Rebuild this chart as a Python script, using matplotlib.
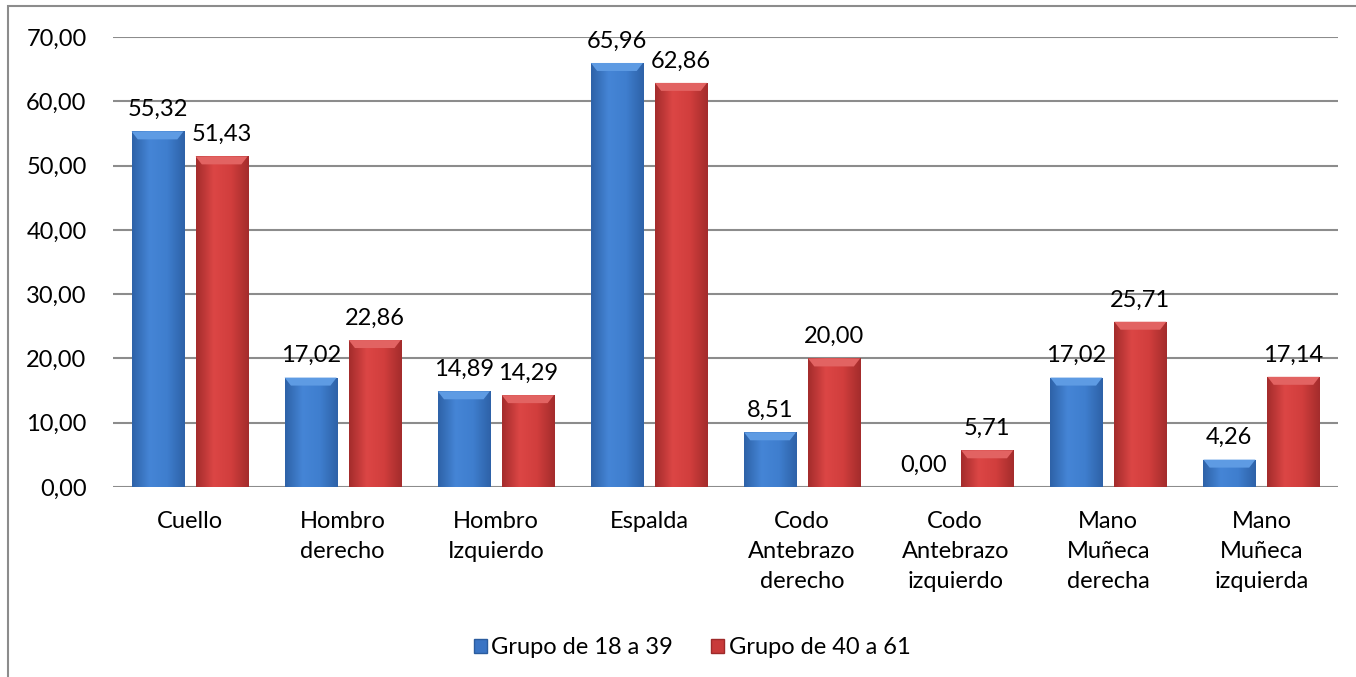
import matplotlib
matplotlib.use("Agg")
import matplotlib.pyplot as plt
import numpy as np
from matplotlib.patches import Rectangle, Polygon, Patch
from matplotlib.colors import LinearSegmentedColormap

categories = ["Cuello", "Hombro\nderecho", "Hombro\nIzquierdo", "Espalda",
              "Codo\nAntebrazo\nderecho", "Codo\nAntebrazo\nizquierdo",
              "Mano\nMuñeca\nderecha", "Mano\nMuñeca\nizquierda"]
series_names = ["Grupo de 18 a 39", "Grupo de 40 a 61"]
grupo_18_39 = [55.32, 17.02, 14.89, 65.96, 8.51, 0.00, 17.02, 4.26]
grupo_40_61 = [51.43, 22.86, 14.29, 62.86, 20.00, 5.71, 25.71, 17.14]
yticks = [0, 10, 20, 30, 40, 50, 60, 70]

plt.rcParams['font.family'] = ['Lato', 'DejaVu Sans']
FS = 17

W, H = 1356, 677
fig = plt.figure(figsize=(W / 100, H / 100), dpi=100)
ax = fig.add_axes([113 / W, (H - 487) / H, (1338 - 113) / W, (487 - 37) / H])

# outer chart frame
fig.patches.append(Rectangle((8 / W, -0.01), 1.02, (H - 6) / H + 0.01, transform=fig.transFigure,
                             fill=False, edgecolor="#8C8C8C", linewidth=1.5))

x = np.arange(len(categories))
bw = 52 / 153
off = 32 / 153

cm_blue = LinearSegmentedColormap.from_list("b", ["#2E62A8", "#4585D6", "#3F7ECE", "#2E62A8"])
cm_red = LinearSegmentedColormap.from_list("r", ["#A42C2C", "#DC4645", "#D13E3D", "#A42C2C"])
grad = np.linspace(0, 1, 64).reshape(1, -1)
top_blue = "#5E9BE3"
top_red = "#E26362"

# bevel height in data units (~8 px)
bev_h = 8 * 70 / 450

def draw(vals, xs, cmap, topc, name):
    bars = ax.bar(xs, vals, bw, color="none", edgecolor="none", label=name, zorder=3)
    for b, v in zip(bars, vals):
        if v <= 0:
            continue
        x0, y0, w, h = b.get_x(), b.get_y(), b.get_width(), b.get_height()
        im = ax.imshow(grad, cmap=cmap, aspect="auto", extent=(x0, x0 + w, y0, y0 + h),
                       zorder=3, interpolation="bicubic")
        im.set_clip_path(b)
        bh = min(bev_h, h * 0.5)
        dx = w * 0.12
        ax.add_patch(Polygon([(x0, y0 + h), (x0 + w, y0 + h), (x0 + w - dx, y0 + h - bh),
                              (x0 + dx, y0 + h - bh)], closed=True, facecolor=topc,
                             edgecolor="none", zorder=4))
    for b, v in zip(bars, vals):
        ax.annotate(f"{v:.2f}".replace(".", ","), (b.get_x() + b.get_width() / 2, v),
                    xytext=(0, 11), textcoords="offset points", ha="center", va="baseline",
                    fontsize=FS, color="black", zorder=5)
    return bars

draw(grupo_18_39, x - off, cm_blue, top_blue, series_names[0])
draw(grupo_40_61, x + off, cm_red, top_red, series_names[1])

ax.set_xlim(-0.5, len(categories) - 0.5)
ax.set_ylim(0, 70)
ax.set_yticks(yticks)
ax.set_yticklabels([f"{t:.2f}".replace(".", ",") for t in yticks], fontsize=FS)
ax.set_xticks(x)
ax.set_xticklabels(categories, fontsize=FS, linespacing=1.55, va="top")
ax.tick_params(axis="both", length=0)
ax.tick_params(axis="y", pad=19)
ax.tick_params(axis="x", pad=17)
ax.yaxis.grid(True, color="#8C8C8C", linewidth=1.5, zorder=0)
ax.set_axisbelow(True)
for s in ax.spines.values():
    s.set_visible(False)

handles = [Patch(facecolor="#3A74C4", edgecolor="#2B5C9E"), Patch(facecolor="#C83A3A", edgecolor="#9E2A2A")]
fig.legend(handles, series_names, loc="center", bbox_to_anchor=(692 / W, (H - 648) / H), ncol=2,
           frameon=False, fontsize=FS, handlelength=0.55, handleheight=0.55, handletextpad=0.2,
           columnspacing=1.6)

fig.savefig("out.png", dpi=100)
